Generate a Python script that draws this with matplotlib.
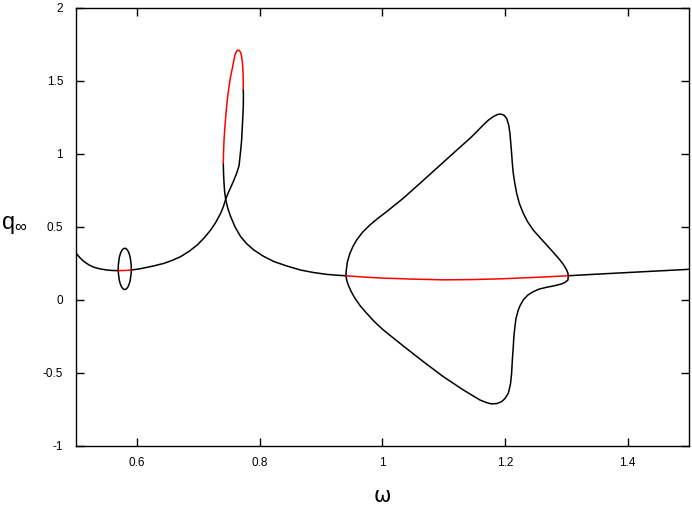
import matplotlib
matplotlib.use("Agg")
import matplotlib.pyplot as plt
from matplotlib.patches import Ellipse

plt.rcParams["font.family"] = ["Liberation Sans", "DejaVu Sans"]
plt.rcParams["mathtext.default"] = "regular"

# ── main branch ──────────────────────────────────────────────────────────────
# black: left edge up to the small isola
main_a_x = [0.500, 0.507, 0.5137, 0.522, 0.530, 0.540, 0.5517, 0.560, 0.5696]
main_a_y = [0.324, 0.290, 0.263, 0.240, 0.224, 0.213, 0.205, 0.202, 0.201]
# red: inside the small isola
main_b_x = [0.5696, 0.580, 0.5908]
main_b_y = [0.201, 0.202, 0.205]
# black: rising part, through the crossing, up the right side of the loop
main_c_x = [0.5908, 0.604, 0.6169, 0.630, 0.6441, 0.658, 0.6713, 0.685,
            0.6984, 0.710, 0.7202, 0.729, 0.7365, 0.741, 0.7447, 0.748,
            0.7517, 0.757, 0.7626, 0.7665, 0.768, 0.7695, 0.7707, 0.772,
            0.7734, 0.7736, 0.7734]
main_c_y = [0.205, 0.213, 0.224, 0.236, 0.251, 0.272, 0.297, 0.333,
            0.377, 0.427, 0.479, 0.535, 0.594, 0.640, 0.690, 0.725,
            0.760, 0.810, 0.868, 0.920, 0.980, 1.040, 1.096, 1.200,
            1.324, 1.390, 1.443]
# red: over the top of the loop and down its left side
main_d_x = [0.7734, 0.7733, 0.7729, 0.7720, 0.7707, 0.7695, 0.7680, 0.7665,
            0.7650, 0.7635, 0.7620, 0.7598, 0.7580, 0.7560, 0.7517, 0.7479,
            0.7452, 0.7435, 0.7420, 0.7412, 0.7408]
main_d_y = [1.443, 1.510, 1.575, 1.625, 1.667, 1.690, 1.703, 1.710,
            1.712, 1.709, 1.700, 1.678, 1.640, 1.598, 1.507, 1.393,
            1.279, 1.190, 1.096, 1.010, 0.936]
# black: down through the crossing towards the large isola
main_e_x = [0.7408, 0.7412, 0.7420, 0.7430, 0.7447, 0.748, 0.7528, 0.760,
            0.7691, 0.779, 0.7908, 0.806, 0.8234, 0.845, 0.8669, 0.888,
            0.9103, 0.925, 0.9408]
main_e_y = [0.936, 0.870, 0.800, 0.740, 0.690, 0.630, 0.571, 0.500,
            0.434, 0.385, 0.342, 0.300, 0.263, 0.232, 0.205, 0.188,
            0.175, 0.170, 0.166]
# red: inside the large isola
main_f_x = [0.9408, 0.970, 1.000, 1.050, 1.100, 1.150, 1.200, 1.250, 1.3031]
main_f_y = [0.166, 0.157, 0.150, 0.143, 0.138, 0.140, 0.146, 0.155, 0.166]
# black: right of the large isola
main_g_x = [1.3031, 1.350, 1.400, 1.450, 1.500]
main_g_y = [0.166, 0.177, 0.188, 0.199, 0.210]

# ── large isola (closed) ─────────────────────────────────────────────────────
isola_x = [0.9408, 0.9412, 0.9430, 0.9473, 0.9520, 0.9582, 0.9680, 0.9799,
           0.9930, 1.0071, 1.0342, 1.0614, 1.0886, 1.1157, 1.1429, 1.1540,
           1.1646, 1.1730, 1.1809, 1.1875, 1.1929, 1.1985, 1.2027, 1.2060,
           1.2081, 1.2095, 1.2108, 1.2120, 1.2135, 1.2160, 1.2190, 1.2235,
           1.2298, 1.2370, 1.2461, 1.2570, 1.2679, 1.2790, 1.2896, 1.2960,
           1.3005, 1.3025, 1.3031, 1.3027, 1.2975, 1.2923, 1.2800, 1.2679,
           1.2560, 1.2461, 1.2370, 1.2298, 1.2250, 1.2217, 1.2180, 1.2162,
           1.2145, 1.2135, 1.2120, 1.2108, 1.2090, 1.2054, 1.2000, 1.1946,
           1.1870, 1.1782, 1.1700, 1.1592, 1.1320, 1.0994, 1.0668, 1.0342,
           1.0016, 0.9870, 0.9745, 0.9640, 0.9554, 0.9490, 0.9445, 0.9420,
           0.9408]
isola_y = [0.166, 0.200, 0.260, 0.320, 0.365, 0.411, 0.465, 0.514,
           0.560, 0.605, 0.697, 0.799, 0.902, 1.005, 1.107, 1.153,
           1.199, 1.232, 1.256, 1.270, 1.274, 1.265, 1.244, 1.200,
           1.142, 1.070, 1.005, 0.935, 0.868, 0.800, 0.731, 0.660,
           0.594, 0.535, 0.479, 0.427, 0.377, 0.325, 0.274, 0.238,
           0.205, 0.185, 0.166, 0.137, 0.120, 0.110, 0.097, 0.087,
           0.075, 0.057, 0.033, 0.000, -0.035, -0.068, -0.125, -0.183,
           -0.250, -0.320, -0.410, -0.502, -0.575, -0.639, -0.675, -0.696,
           -0.709, -0.712, -0.703, -0.685, -0.616, -0.525, -0.422, -0.315,
           -0.205, -0.148, -0.091, -0.040, 0.012, 0.060, 0.103, 0.135,
           0.166]

# ── small isola: centre and extent ───────────────────────────────────────────
small_isola_center = (0.5802, 0.213)
small_isola_width = 0.0212
small_isola_height = 0.282

x_ticks = [0.6, 0.8, 1.0, 1.2, 1.4]
x_tick_labels = ["0.6", "0.8", "1", "1.2", "1.4"]
y_ticks = [-1, -0.5, 0, 0.5, 1, 1.5, 2]
y_tick_labels = ["-1", "-0.5", "0", "0.5", "1", "1.5", "2"]

# ── figure ───────────────────────────────────────────────────────────────────
fig = plt.figure(figsize=(6.92, 5.09), dpi=100)
ax = fig.add_axes([0.1092, 0.1238, 0.8865, 0.8605])

LW = 1.1
black_segments = [(main_a_x, main_a_y), (main_c_x, main_c_y),
                  (main_e_x, main_e_y), (main_g_x, main_g_y),
                  (isola_x, isola_y)]
red_segments = [(main_b_x, main_b_y), (main_d_x, main_d_y),
                (main_f_x, main_f_y)]

for xs, ys in black_segments:
    ax.plot(xs, ys, color="black", lw=LW, solid_joinstyle="round",
            solid_capstyle="round", zorder=3)
ax.add_patch(Ellipse(small_isola_center, small_isola_width, small_isola_height,
                     fill=False, edgecolor="black", lw=LW, zorder=3))
for xs, ys in red_segments:
    ax.plot(xs, ys, color="#ff0000", lw=LW, solid_joinstyle="round",
            solid_capstyle="round", zorder=4)

ax.set_xlim(0.5, 1.5)
ax.set_ylim(-1, 2)
ax.set_xticks(x_ticks)
ax.set_xticklabels(x_tick_labels)
ax.set_yticks(y_ticks)
ax.set_yticklabels(y_tick_labels)
ax.tick_params(direction="in", length=6, width=1, top=True, right=True,
               labelsize=8.5, pad=9, colors="black")
ax.tick_params(axis="x", pad=8)
for sp in ax.spines.values():
    sp.set_linewidth(1.0)

ax.set_xlabel("ω", fontsize=15, labelpad=12, family=["DejaVu Sans"])
ax.set_ylabel(r"q$_\infty$", fontsize=17, rotation=0, va="center", ha="center")
ax.yaxis.set_label_coords(-0.1, 0.505)

fig.savefig("out.png", dpi=100)
